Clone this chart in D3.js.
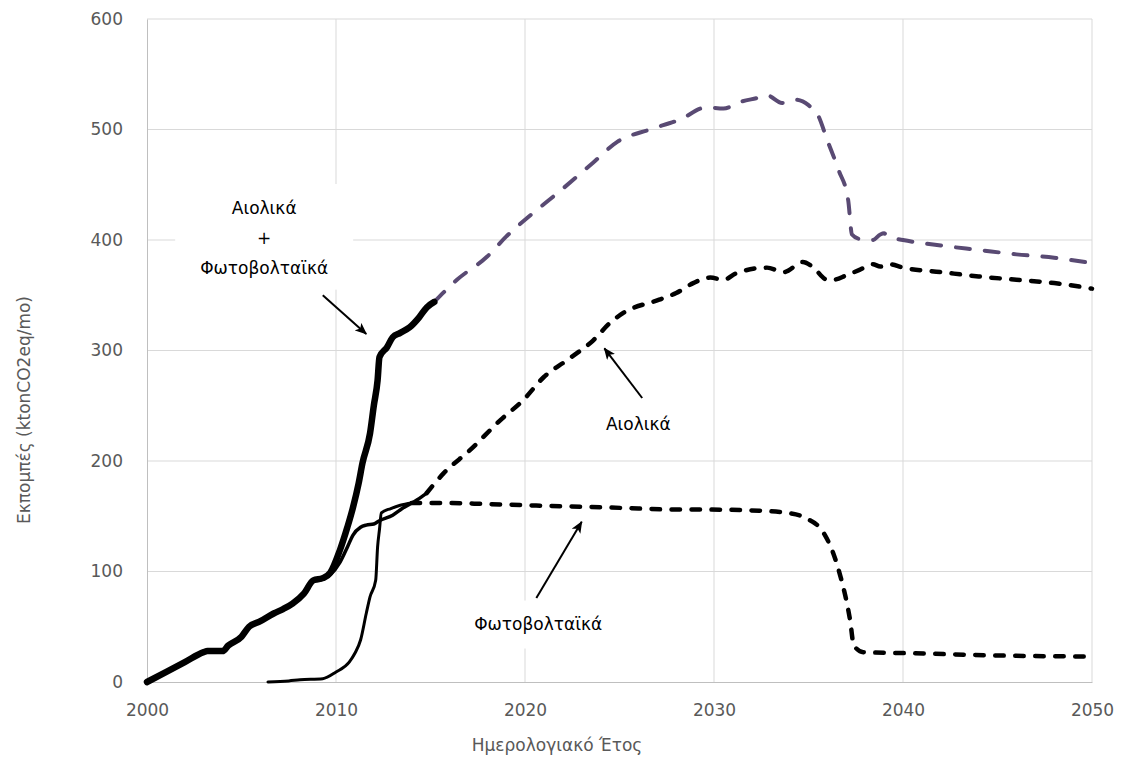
<!DOCTYPE html>
<html>
<head>
<meta charset="utf-8">
<script src="https://cdn.jsdelivr.net/npm/d3@7"></script>
<style>
  html, body { margin: 0; padding: 0; background: #fff; }
  svg { display: block; }
</style>
</head>
<body>
<svg id="chart" width="1126" height="758"></svg>
<script>
// Monthly emissions avoided by wind and photovoltaic plants (ktonCO2eq/mo)

// Axis ticks
const xTicks = [2000, 2010, 2020, 2030, 2040, 2050];
const yTicks = [0, 100, 200, 300, 400, 500, 600];

// Wind + PV total: recorded period
const totalHistYears = [2000, 2001, 2002, 2003, 2003.2, 2004, 2004.3, 2005, 2005.4, 2006, 2006.7, 2007.2, 2007.7, 2008.3, 2008.8, 2009.3, 2009.7, 2010.2, 2010.6, 2010.9, 2011.2, 2011.4, 2011.8, 2012.0, 2012.2, 2012.3, 2012.7, 2013.0, 2013.4, 2013.9, 2014.4, 2014.8, 2015.2];
const totalHistValues = [0, 9, 18, 27, 28, 28, 33, 41, 50, 55, 62, 66, 71, 80, 92, 94, 99, 119, 140, 158, 180, 198, 225, 250, 273, 294, 303, 312, 316, 321, 330, 339, 344];

// Wind + PV total: projection
const totalProjYears = [2015.2, 2016.4, 2018.0, 2019.0, 2020.4, 2021.9, 2023.6, 2024.9, 2026.6, 2028.2, 2029.6, 2030.5, 2031.4, 2032.4, 2032.8, 2033.6, 2034.3, 2035.0, 2035.5, 2036.0, 2036.6, 2037.1, 2037.3, 2037.7, 2038.4, 2038.8, 2039.0, 2039.2, 2040, 2042, 2044, 2046, 2048, 2050];
const totalProjValues = [344, 364, 385, 403, 424, 445, 470, 489, 500, 509, 520, 519, 525, 529, 531, 524, 527, 522, 513, 490, 463, 436, 405, 401, 400, 405, 406, 403, 400, 395, 391, 387, 384, 379];

// Wind: recorded period
const windHistYears = [2000, 2001, 2002, 2003, 2003.2, 2004, 2004.3, 2005, 2005.4, 2006, 2006.7, 2007.2, 2007.7, 2008.3, 2008.8, 2009.3, 2009.7, 2010.2, 2010.6, 2010.9, 2011.3, 2011.6, 2012.0, 2012.3, 2013.0, 2013.5, 2014.3, 2014.8];
const windHistValues = [0, 9, 18, 27, 28, 28, 33, 41, 50, 55, 62, 66, 71, 80, 91, 93, 97, 108, 122, 133, 140, 142, 143, 146, 151, 157, 165, 171];

// Wind: projection
const windProjYears = [2014.8, 2015.7, 2017.1, 2018.7, 2019.9, 2021.0, 2022.2, 2023.6, 2024.5, 2025.2, 2027.1, 2028.0, 2028.9, 2029.8, 2030.5, 2031.2, 2032.8, 2033.7, 2034.7, 2035.2, 2036.0, 2036.3, 2037.0, 2037.7, 2038.4, 2038.8, 2039.3, 2040, 2042, 2044, 2046, 2048, 2050];
const windProjValues = [171, 189, 210, 237, 255, 276, 291, 309, 325, 334, 346, 352, 361, 366, 364, 370, 375, 371, 380, 376, 364, 364, 368, 373, 378, 376, 378, 375, 371, 367, 364, 361, 356];

// Photovoltaics: recorded period
const pvHistYears = [2006.4, 2007.5, 2008.1, 2009.3, 2010.0, 2010.7, 2011.0, 2011.3, 2011.6, 2011.8, 2012.1, 2012.2, 2012.3, 2012.4, 2012.9, 2013.4, 2014.0];
const pvHistValues = [0, 1, 2, 3, 9, 18, 26, 38, 62, 77, 92, 122, 138, 153, 157, 160, 162];

// Photovoltaics: projection
const pvProjYears = [2014.0, 2016, 2018, 2020, 2022, 2024.3, 2026, 2028, 2029.8, 2032.4, 2033.9, 2034.9, 2035.8, 2036.3, 2036.7, 2037.0, 2037.2, 2037.4, 2037.9, 2040.5, 2045, 2050];
const pvProjValues = [162, 162, 161, 160, 159, 158, 157, 156, 156, 155, 153, 148, 135, 117, 95, 74, 56, 33, 27, 26, 24, 23];

// Callout labels and arrows (data units)
const labelTotalLines = ["Αιολικά", "+", "Φωτοβολταϊκά"];
const labelTotalPos = { year: 2006.2, values: [429, 402, 375] };
const labelWind = { text: "Αιολικά", year: 2026.0, value: 233 };
const labelPv = { text: "Φωτοβολταϊκά", year: 2020.7, value: 52 };
const arrows = [
  { fromYear: 2009.3, fromValue: 350, toYear: 2011.6, toValue: 315 },
  { fromYear: 2026.2, fromValue: 257, toYear: 2024.2, toValue: 302 },
  { fromYear: 2020.6, fromValue: 76, toYear: 2023.0, toValue: 145 }
];

const svg = d3.select("#chart");
const plot = { left: 147, right: 1092, top: 19, bottom: 682 };

const x = d3.scaleLinear().domain([2000, 2050]).range([plot.left, plot.right]);
const y = d3.scaleLinear().domain([0, 600]).range([plot.bottom, plot.top]);

const tickFont = "'DejaVu Sans', sans-serif";
const noteFont = "'DejaVu Sans', sans-serif";

// Gridlines
const grid = svg.append("g");
grid.selectAll("line.h").data(yTicks.filter(d => d > 0)).join("line")
  .attr("x1", plot.left).attr("x2", plot.right)
  .attr("y1", d => y(d)).attr("y2", d => y(d))
  .attr("stroke", "#d9d9d9").attr("stroke-width", 1);
grid.selectAll("line.v").data(xTicks.filter(d => d > 2000)).join("line")
  .attr("x1", d => x(d)).attr("x2", d => x(d))
  .attr("y1", plot.top).attr("y2", plot.bottom)
  .attr("stroke", "#d9d9d9").attr("stroke-width", 1);

// Axes
const xAxis = svg.append("g").attr("transform", `translate(0,${plot.bottom})`)
  .call(d3.axisBottom(x).tickValues(xTicks).tickFormat(d3.format("d")).tickSize(0).tickPadding(22));
const yAxis = svg.append("g").attr("transform", `translate(${plot.left},0)`)
  .call(d3.axisLeft(y).tickValues(yTicks).tickSize(0).tickPadding(24));
[xAxis, yAxis].forEach(a => {
  a.select(".domain").attr("stroke", "#bfbfbf").attr("stroke-width", 1);
  a.selectAll("text").attr("fill", "#595959").style("font-family", tickFont).style("font-size", "17px");
});

// Axis titles
svg.append("text")
  .attr("x", 557).attr("y", 751)
  .attr("text-anchor", "middle")
  .attr("fill", "#595959")
  .style("font-family", tickFont).style("font-size", "17px")
  .text("Ημερολογιακό Έτος");
svg.append("text")
  .attr("transform", "translate(30,410) rotate(-90)")
  .attr("text-anchor", "middle")
  .attr("fill", "#595959")
  .style("font-family", tickFont).style("font-size", "17px")
  .text("Εκπομπές (ktonCO2eq/mo)");

// Label backgrounds hide the gridlines behind the callouts
const noteG = svg.append("g");
const topLabelX = x(labelTotalPos.year);
noteG.append("rect")
  .attr("x", topLabelX - 89).attr("y", y(labelTotalPos.values[0]) - 24)
  .attr("width", 178).attr("height", y(labelTotalPos.values[2]) - y(labelTotalPos.values[0]) + 46)
  .attr("fill", "#fff");
noteG.append("rect")
  .attr("x", x(labelPv.year) - 76).attr("y", y(labelPv.value) - 24)
  .attr("width", 152).attr("height", 48)
  .attr("fill", "#fff");

noteG.selectAll("text.total").data(labelTotalLines).join("text")
  .attr("x", topLabelX)
  .attr("y", (d, i) => y(labelTotalPos.values[i]))
  .attr("dy", "0.35em")
  .attr("text-anchor", "middle")
  .style("font-family", noteFont).style("font-size", "17px")
  .text(d => d);
noteG.append("text")
  .attr("x", x(labelWind.year)).attr("y", y(labelWind.value)).attr("dy", "0.35em")
  .attr("text-anchor", "middle")
  .style("font-family", noteFont).style("font-size", "17px")
  .text(labelWind.text);
noteG.append("text")
  .attr("x", x(labelPv.year)).attr("y", y(labelPv.value)).attr("dy", "0.35em")
  .attr("text-anchor", "middle")
  .style("font-family", noteFont).style("font-size", "17px")
  .text(labelPv.text);

// Series
const line = d3.line().x(d => x(d[0])).y(d => y(d[1])).curve(d3.curveMonotoneX);
const zip = (a, b) => a.map((v, i) => [v, b[i]]);

const series = [
  { years: pvProjYears, values: pvProjValues, color: "#000", width: 4.5, dash: "8.5,11.5" },
  { years: windProjYears, values: windProjValues, color: "#000", width: 4.5, dash: "8.5,11.5" },
  { years: totalProjYears, values: totalProjValues, color: "#594a73", width: 4, dash: "14,15" },
  { years: pvHistYears, values: pvHistValues, color: "#000", width: 3, dash: null },
  { years: windHistYears, values: windHistValues, color: "#000", width: 3.5, dash: null },
  { years: totalHistYears, values: totalHistValues, color: "#000", width: 6.5, dash: null }
];

svg.append("g").selectAll("path").data(series).join("path")
  .attr("d", s => line(zip(s.years, s.values)))
  .attr("fill", "none")
  .attr("stroke", s => s.color)
  .attr("stroke-width", s => s.width)
  .attr("stroke-linejoin", "round")
  .attr("stroke-linecap", "round")
  .attr("stroke-dasharray", s => s.dash);

// Callout arrows
svg.append("defs").append("marker")
  .attr("id", "head")
  .attr("viewBox", "0 0 12 10")
  .attr("refX", 11).attr("refY", 5)
  .attr("markerWidth", 12).attr("markerHeight", 10)
  .attr("markerUnits", "userSpaceOnUse")
  .attr("orient", "auto")
  .append("path")
  .attr("d", "M0,0 L12,5 L0,10 L3,5 Z")
  .attr("fill", "#000");

svg.append("g").selectAll("line").data(arrows).join("line")
  .attr("x1", d => x(d.fromYear)).attr("y1", d => y(d.fromValue))
  .attr("x2", d => x(d.toYear)).attr("y2", d => y(d.toValue))
  .attr("stroke", "#000").attr("stroke-width", 2)
  .attr("marker-end", "url(#head)");
</script>
</body>
</html>
